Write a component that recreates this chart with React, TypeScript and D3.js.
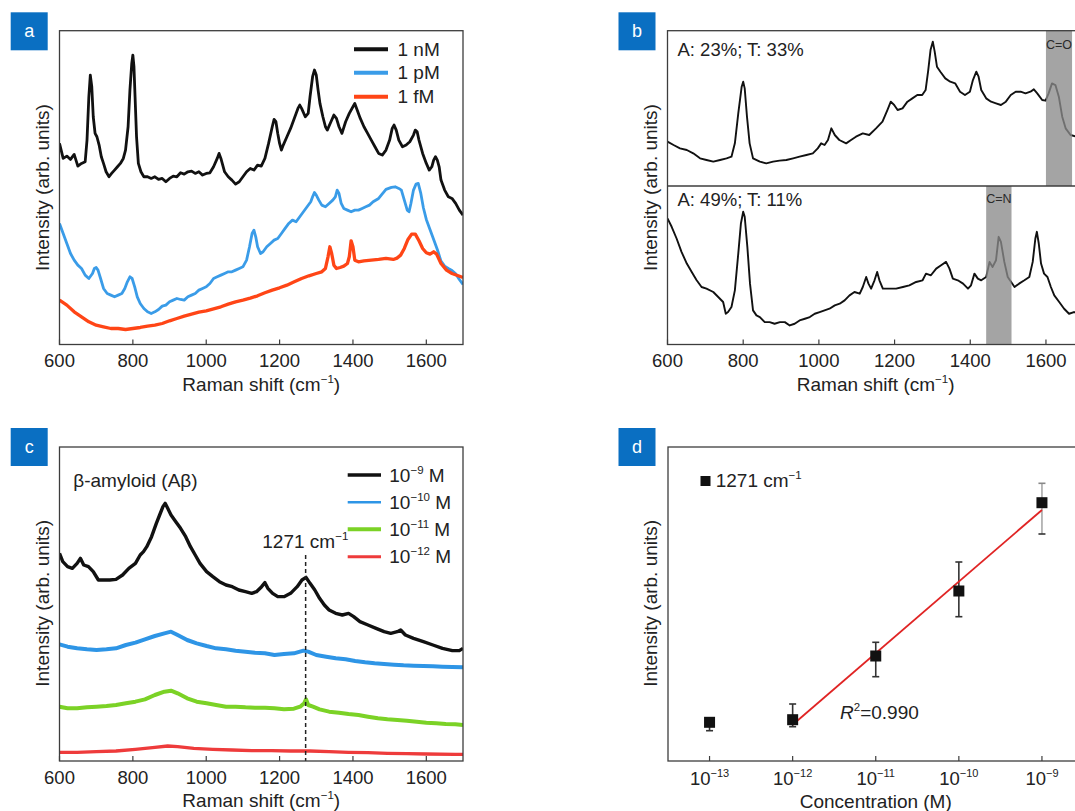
import React from 'react';
import * as d3 from 'd3';

// ---------------- DATA ----------------
const ramanTicks = [600, 800, 1000, 1200, 1400, 1600];

// Panel a: [Raman shift (cm-1), intensity (arb.)]
const a1nM: [number, number][] = [[600,603],[610,558],[620,565],[630,555],[640,570],[650,535],[660,543],[670,548],[675,613],[680,743],[684,808],[688,773],[692,683],[697,633],[702,623],[708,598],[714,563],[720,543],[727,518],[735,503],[742,513],[750,523],[758,533],[766,543],[774,558],[780,583],[787,653],[792,763],[797,843],[800,868],[803,833],[806,743],[810,623],[815,543],[822,518],[830,503],[840,503],[850,498],[860,503],[870,495],[880,498],[890,488],[900,498],[910,505],[920,503],[930,515],[940,511],[950,518],[960,520],[970,513],[980,518],[990,508],[1000,513],[1010,515],[1020,533],[1030,558],[1035,573],[1040,558],[1045,538],[1050,518],[1060,503],[1070,493],[1080,481],[1090,488],[1100,503],[1110,518],[1120,528],[1130,523],[1140,538],[1150,535],[1160,558],[1170,603],[1180,653],[1185,675],[1190,668],[1195,633],[1200,603],[1205,583],[1210,598],[1220,623],[1230,648],[1240,678],[1250,708],[1255,718],[1260,708],[1270,683],[1278,693],[1283,743],[1290,803],[1295,823],[1300,808],[1305,763],[1310,723],[1318,683],[1325,653],[1330,643],[1340,668],[1348,688],[1355,678],[1362,653],[1370,633],[1380,668],[1390,693],[1400,713],[1405,723],[1410,708],[1420,678],[1430,653],[1440,633],[1450,613],[1460,593],[1470,573],[1480,568],[1490,583],[1500,613],[1507,648],[1512,658],[1518,643],[1525,613],[1535,593],[1545,598],[1555,608],[1565,628],[1570,643],[1575,638],[1580,613],[1590,573],[1600,543],[1608,523],[1615,533],[1620,553],[1625,563],[1630,553],[1635,533],[1640,493],[1650,463],[1660,443],[1670,438],[1680,423],[1690,403],[1700,388]];
const a1pM: [number, number][] = [[600,363],[610,333],[620,303],[630,273],[640,253],[650,238],[660,228],[670,208],[680,198],[690,213],[695,228],[700,231],[705,223],[712,198],[720,168],[730,153],[740,148],[750,143],[760,148],[770,153],[778,168],[785,188],[792,203],[798,198],[805,173],[812,143],[820,123],[830,108],[840,98],[850,93],[860,98],[870,105],[880,115],[890,118],[900,128],[910,133],[920,138],[930,135],[940,133],[950,143],[960,148],[970,153],[980,163],[990,168],[1000,173],[1010,183],[1020,198],[1030,203],[1040,208],[1050,213],[1060,218],[1070,218],[1080,223],[1090,228],[1100,233],[1110,253],[1118,293],[1125,333],[1130,343],[1135,323],[1140,293],[1148,273],[1155,278],[1165,293],[1175,303],[1185,313],[1195,318],[1205,333],[1215,348],[1225,363],[1235,373],[1245,368],[1255,383],[1265,398],[1275,413],[1285,428],[1290,443],[1295,456],[1300,448],[1307,433],[1315,418],[1325,413],[1335,423],[1345,433],[1352,443],[1357,463],[1362,453],[1368,423],[1375,408],[1385,403],[1395,398],[1405,403],[1415,403],[1425,408],[1435,413],[1445,418],[1455,428],[1470,438],[1490,465],[1505,471],[1515,473],[1525,468],[1532,463],[1540,433],[1548,403],[1553,398],[1558,423],[1565,463],[1572,481],[1578,483],[1585,453],[1592,410],[1600,375],[1610,345],[1620,315],[1630,285],[1640,250],[1650,235],[1660,228],[1670,222],[1680,212],[1690,195],[1700,180]];
const a1fM: [number, number][] = [[600,133],[620,118],[640,98],[660,83],[680,68],[700,58],[720,53],[740,48],[760,48],[780,45],[800,48],[820,51],[840,55],[860,58],[880,63],[900,71],[920,78],[940,85],[960,91],[980,97],[1000,101],[1020,107],[1040,113],[1060,121],[1080,128],[1100,133],[1120,139],[1140,146],[1160,155],[1180,163],[1200,170],[1220,178],[1240,188],[1260,198],[1280,206],[1300,213],[1315,218],[1325,228],[1332,263],[1337,293],[1342,273],[1348,238],[1355,228],[1365,231],[1375,235],[1385,243],[1390,263],[1395,311],[1400,293],[1405,253],[1415,248],[1430,251],[1450,253],[1470,255],[1490,258],[1510,255],[1520,259],[1530,268],[1540,288],[1550,315],[1560,331],[1570,331],[1580,311],[1590,288],[1600,275],[1610,271],[1620,278],[1628,271],[1640,243],[1655,223],[1670,213],[1685,207],[1700,201]];
const aLegend = ['1 nM', '1 pM', '1 fM'];

// Panel b
const bUpper: [number, number][] = [[600,133],[616,123],[633,113],[651,108],[668,98],[686,83],[703,78],[721,73],[739,78],[756,83],[769,88],[778,128],[787,218],[796,298],[800,313],[804,293],[810,208],[817,128],[826,83],[844,73],[861,68],[879,73],[896,76],[914,78],[932,83],[949,88],[967,93],[984,98],[997,113],[1006,128],[1015,123],[1024,138],[1033,173],[1042,153],[1054,138],[1072,128],[1085,138],[1098,148],[1116,158],[1133,153],[1151,173],[1168,193],[1181,228],[1190,253],[1199,243],[1208,228],[1221,233],[1234,253],[1247,263],[1260,273],[1273,273],[1282,288],[1289,348],[1295,408],[1301,433],[1306,403],[1312,358],[1321,343],[1334,323],[1347,313],[1360,308],[1373,283],[1386,273],[1399,283],[1407,318],[1416,343],[1422,328],[1429,288],[1442,263],[1455,253],[1468,248],[1481,243],[1494,253],[1507,273],[1520,283],[1533,283],[1546,278],[1559,283],[1568,290],[1577,278],[1590,258],[1599,256],[1607,278],[1616,308],[1625,303],[1634,268],[1643,208],[1652,173],[1665,153],[1680,148]];
const bLower: [number, number][] = [[600,377],[611,352],[624,317],[637,277],[651,242],[664,217],[677,192],[690,172],[703,167],[721,157],[734,142],[747,127],[754,92],[760,97],[769,112],[778,162],[787,272],[794,362],[800,397],[804,382],[811,292],[818,182],[826,102],[835,87],[844,82],[857,67],[870,67],[883,62],[897,67],[910,67],[923,57],[936,62],[949,72],[963,77],[976,82],[989,92],[1002,97],[1015,102],[1028,107],[1042,117],[1055,122],[1068,132],[1081,147],[1094,157],[1108,152],[1116,172],[1125,202],[1131,182],[1138,167],[1147,192],[1154,217],[1160,192],[1169,167],[1187,167],[1204,167],[1222,172],[1239,177],[1257,187],[1274,192],[1283,212],[1296,207],[1310,227],[1323,237],[1336,247],[1345,227],[1354,197],[1367,192],[1381,182],[1394,167],[1402,177],[1411,212],[1420,197],[1429,192],[1442,202],[1451,247],[1459,232],[1468,252],[1475,322],[1481,307],[1490,247],[1499,202],[1508,187],[1517,172],[1529,182],[1543,192],[1556,202],[1565,247],[1572,317],[1576,337],[1581,302],[1587,242],[1595,212],[1604,202],[1613,172],[1622,147],[1635,127],[1648,107],[1661,92],[1674,97],[1690,92]];
const bBands: [number, number][] = [[1600, 1669], [1442, 1509]];
const bBandLabels = ['C=O', 'C=N'];
const bAnnotations = ['A: 23%; T: 33%', 'A: 49%; T: 11%'];

// Panel c
const c1e9: [number, number][] = [[600,623],[609,598],[622,583],[635,578],[648,593],[657,608],[666,588],[679,583],[692,568],[706,543],[719,543],[737,543],[754,545],[772,558],[789,578],[807,593],[820,618],[829,628],[838,643],[851,673],[864,713],[873,738],[882,763],[888,773],[895,758],[904,738],[917,718],[930,698],[944,673],[957,643],[970,618],[983,593],[1001,568],[1018,553],[1036,538],[1054,528],[1071,523],[1089,513],[1107,508],[1124,503],[1137,508],[1151,523],[1160,535],[1168,518],[1181,503],[1195,493],[1212,493],[1230,503],[1248,523],[1261,543],[1272,551],[1283,533],[1296,513],[1309,488],[1322,468],[1335,453],[1353,443],[1371,438],[1388,443],[1402,433],[1419,418],[1441,408],[1463,398],[1485,388],[1503,383],[1521,388],[1530,393],[1543,378],[1565,368],[1592,358],[1618,348],[1644,338],[1671,331],[1690,331],[1700,338]];
const c1e10: [number, number][] = [[600,350],[622,343],[648,338],[675,335],[701,333],[728,335],[754,338],[781,348],[807,355],[833,365],[860,375],[886,383],[904,388],[922,378],[948,363],[974,353],[1001,345],[1027,338],[1054,335],[1080,331],[1107,328],[1133,325],[1160,323],[1186,318],[1212,321],[1239,323],[1265,331],[1278,328],[1300,318],[1327,313],[1353,308],[1380,305],[1406,300],[1433,296],[1459,293],[1485,291],[1512,289],[1538,287],[1565,286],[1592,285],[1618,284],[1644,283],[1671,282],[1700,281]];
const c1e11: [number, number][] = [[600,163],[622,158],[648,158],[675,161],[701,163],[728,165],[754,168],[781,173],[807,178],[833,185],[860,198],[886,208],[904,211],[922,203],[948,188],[974,178],[1001,173],[1027,168],[1054,163],[1080,163],[1107,161],[1133,160],[1160,160],[1186,158],[1212,155],[1239,157],[1256,163],[1267,173],[1272,185],[1278,168],[1291,163],[1309,155],[1335,148],[1362,145],[1388,141],[1415,138],[1441,133],[1468,128],[1494,125],[1521,123],[1547,121],[1574,118],[1600,115],[1627,113],[1653,111],[1679,110],[1700,108]];
const c1e12: [number, number][] = [[600,26],[648,26],[701,28],[754,30],[807,35],[860,41],[895,45],[922,43],[966,38],[1018,35],[1071,33],[1124,31],[1177,31],[1230,30],[1283,30],[1335,28],[1388,26],[1441,25],[1494,23],[1547,22],[1600,21],[1679,20],[1700,20]];
const cLegendExp = ['\u22129', '\u221210', '\u221211', '\u221212'];
const cMarkedShift = 1271;

// Panel d
const dConc = [1e-13, 1e-12, 1e-11, 1e-10, 1e-9];
const dIntensity = [38.7, 41.3, 105, 170, 258.3];
const dErrUp = [3, 15.7, 13.7, 29, 19.4];
const dErrDown = [8.4, 7, 20.7, 25.7, 31.3];
const dTickExp = [-13, -12, -11, -10, -9];
const dR2 = '0.990';

// ---------------- STYLE / LAYOUT ----------------
const FONT = '"Liberation Sans", Arial, Helvetica, sans-serif';
const AXIS = '#3d3d3d';
const TXT = '#222';
const BOX = '#0a6fc2';
const TICK_FS = 18.5;
const TITLE_FS = 19;

const PA = { l: 59.5, r: 463, t: 30.7, b: 344.5 };
const PB = { l: 667.5, r: 1083.8, t: 30.7, m: 186, b: 344.5 };
const PC = { l: 59.5, r: 463, t: 447, b: 761 };
const PD = { l: 668, r: 1083.5, t: 447, b: 761 };

const MINUS = '\u2212';

function LabelBox({ x, y, letter }: { x: number; y: number; letter: string }) {
  return (
    <g>
      <rect x={x} y={y} width={37} height={38} fill={BOX} />
      <text x={x + 18.5} y={y + 25} textAnchor="middle" fill="#fff" fontSize={18}>{letter}</text>
    </g>
  );
}

function RamanTitle({ cx, y }: { cx: number; y: number }) {
  return (
    <text x={cx} y={y} textAnchor="middle" fontSize={TITLE_FS} fill={TXT}>
      Raman shift (cm<tspan dy={-8} fontSize={11.5}>{MINUS}1</tspan><tspan dy={8}>)</tspan>
    </text>
  );
}

function YTitle({ x, cy }: { x: number; cy: number }) {
  return (
    <text transform={`translate(${x},${cy}) rotate(-90)`} textAnchor="middle" dy="0.35em" fontSize={TITLE_FS} fill={TXT}>
      Intensity (arb. units)
    </text>
  );
}

function RamanTicks({ x, b }: { x: d3.ScaleLinear<number, number>; b: number }) {
  return (
    <g>
      {ramanTicks.map((v) => (
        <g key={v}>
          <line x1={x(v)} x2={x(v)} y1={b} y2={b - 5} stroke={AXIS} strokeWidth={1.2} />
          <text x={x(v)} y={b + 22.5} textAnchor="middle" fontSize={TICK_FS} fill={TXT}>{v}</text>
        </g>
      ))}
    </g>
  );
}

function makeLine(x: (v: number) => number, y: (v: number) => number) {
  return d3.line<[number, number]>().x((d) => x(d[0])).y((d) => y(d[1])).curve(d3.curveLinear);
}

function PanelA() {
  const x = d3.scaleLinear().domain([600, 1700]).range([PA.l, PA.r]);
  const y = d3.scaleLinear().domain([0, 941]).range([PA.b, PA.t]);
  const line = makeLine(x, y);
  const series = [
    { d: a1nM, c: '#111111', w: 2.8 },
    { d: a1pM, c: '#3a9ce8', w: 2.8 },
    { d: a1fM, c: '#ff4516', w: 3.3 },
  ];
  const legY = [49.3, 72.7, 96.7];
  return (
    <g>
      <defs>
        <clipPath id="clipA"><rect x={PA.l} y={PA.t} width={PA.r - PA.l} height={PA.b - PA.t} /></clipPath>
      </defs>
      <g clipPath="url(#clipA)">
        {series.map((s, i) => (
          <path key={i} d={line(s.d) || ''} fill="none" stroke={s.c} strokeWidth={s.w} strokeLinejoin="round" />
        ))}
      </g>
      <rect x={PA.l} y={PA.t} width={PA.r - PA.l} height={PA.b - PA.t} fill="none" stroke={AXIS} strokeWidth={1.3} />
      <RamanTicks x={x} b={PA.b} />
      {aLegend.map((lab, i) => (
        <g key={lab}>
          <line x1={354} x2={388} y1={legY[i]} y2={legY[i]} stroke={series[i].c} strokeWidth={4} />
          <text x={397.5} y={legY[i] + 6.6} fontSize={TITLE_FS} fill={TXT}>{lab}</text>
        </g>
      ))}
      <RamanTitle cx={(PA.l + PA.r) / 2} y={390.5} />
      <YTitle x={42} cy={187.5} />
      <LabelBox x={10.7} y={12.3} letter="a" />
    </g>
  );
}

function PanelB() {
  const x = d3.scaleLinear().domain([600, 1700]).range([PB.l, PB.r]);
  const yU = d3.scaleLinear().domain([0, 466]).range([PB.m, PB.t]);
  const yL = d3.scaleLinear().domain([0, 474]).range([PB.b, PB.m]);
  const lineU = makeLine(x, yU);
  const lineL = makeLine(x, yL);
  const bandTop = [PB.t, PB.m];
  const bandBot = [PB.m, PB.b];
  const labelY = [49.3, 202.7];
  const annY = [56, 206];
  return (
    <g>
      <defs>
        <clipPath id="clipBU"><rect x={PB.l} y={PB.t} width={PB.r - PB.l} height={PB.m - PB.t} /></clipPath>
        <clipPath id="clipBL"><rect x={PB.l} y={PB.m} width={PB.r - PB.l} height={PB.b - PB.m} /></clipPath>
      </defs>
      <path d={lineU(bUpper) || ''} clipPath="url(#clipBU)" fill="none" stroke="#111" strokeWidth={1.9} strokeLinejoin="round" />
      <path d={lineL(bLower) || ''} clipPath="url(#clipBL)" fill="none" stroke="#111" strokeWidth={1.9} strokeLinejoin="round" />
      {bBands.map((bd, i) => (
        <g key={i}>
          <rect x={x(bd[0])} y={bandTop[i]} width={x(bd[1]) - x(bd[0])} height={bandBot[i] - bandTop[i]} fill="#8a8a8a" fillOpacity={0.78} />
          <text x={(x(bd[0]) + x(bd[1])) / 2} y={labelY[i]} textAnchor="middle" fontSize={12.5} fill="#2a2a2a">{bBandLabels[i]}</text>
        </g>
      ))}
      <rect x={PB.l} y={PB.t} width={PB.r - PB.l} height={PB.b - PB.t} fill="none" stroke={AXIS} strokeWidth={1.3} />
      <line x1={PB.l} x2={PB.r} y1={PB.m} y2={PB.m} stroke={AXIS} strokeWidth={1.3} />
      <RamanTicks x={x} b={PB.b} />
      {bAnnotations.map((t, i) => (
        <text key={t} x={677.5} y={annY[i]} fontSize={TICK_FS} fill={TXT}>{t}</text>
      ))}
      <RamanTitle cx={(PB.l + PB.r) / 2} y={390.5} />
      <YTitle x={650} cy={187.5} />
      <LabelBox x={618.5} y={12.3} letter="b" />
    </g>
  );
}

function PanelC() {
  const x = d3.scaleLinear().domain([600, 1700]).range([PC.l, PC.r]);
  const y = d3.scaleLinear().domain([0, 942]).range([PC.b, PC.t]);
  const line = makeLine(x, y);
  const series = [
    { d: c1e9, c: '#111111', w: 3.4, lw: 3.5 },
    { d: c1e10, c: '#2e95e6', w: 4.0, lw: 2.6 },
    { d: c1e11, c: '#7bd226', w: 4.0, lw: 4 },
    { d: c1e12, c: '#ee3b3b', w: 3.4, lw: 3 },
  ];
  const legY = [475, 502.3, 529.3, 556.7];
  const xm = x(cMarkedShift);
  return (
    <g>
      <defs>
        <clipPath id="clipC"><rect x={PC.l} y={PC.t} width={PC.r - PC.l} height={PC.b - PC.t} /></clipPath>
      </defs>
      <g clipPath="url(#clipC)">
        {series.slice().reverse().map((s, i) => (
          <path key={i} d={line(s.d) || ''} fill="none" stroke={s.c} strokeWidth={s.w} strokeLinejoin="round" />
        ))}
      </g>
      <line x1={xm} x2={xm} y1={555} y2={PC.b} stroke="#222" strokeWidth={1.5} strokeDasharray="4,3" />
      <rect x={PC.l} y={PC.t} width={PC.r - PC.l} height={PC.b - PC.t} fill="none" stroke={AXIS} strokeWidth={1.3} />
      <RamanTicks x={x} b={PC.b} />
      <text x={73.3} y={486.5} fontSize={TITLE_FS} fill={TXT}>β-amyloid (Aβ)</text>
      <text x={262.3} y={548.3} fontSize={TITLE_FS} fill={TXT}>
        {cMarkedShift} cm<tspan dy={-8} fontSize={11.5}>{MINUS}1</tspan>
      </text>
      {cLegendExp.map((e, i) => (
        <g key={e}>
          <line x1={347.7} x2={381} y1={legY[i]} y2={legY[i]} stroke={series[i].c} strokeWidth={series[i].lw} />
          <text x={389.3} y={legY[i] + 6.6} fontSize={TITLE_FS} fill={TXT}>
            10<tspan dy={-8} fontSize={11.5}>{e}</tspan><tspan dy={8}> M</tspan>
          </text>
        </g>
      ))}
      <RamanTitle cx={(PC.l + PC.r) / 2} y={806.5} />
      <YTitle x={42} cy={603.3} />
      <LabelBox x={10.7} y={428} letter="c" />
    </g>
  );
}

function PanelD() {
  const x = d3.scaleLog().domain([Math.pow(10, -13.5), Math.pow(10, -8.5)]).range([PD.l, PD.r]);
  const y = d3.scaleLinear().domain([0, 314]).range([PD.b, PD.t]);
  // linear fit of intensity vs log10(concentration) for 1e-12 .. 1e-9
  const fx = dConc.slice(1).map((c) => Math.log10(c));
  const fy = dIntensity.slice(1);
  const mx = d3.mean(fx) as number;
  const my = d3.mean(fy) as number;
  let sxy = 0, sxx = 0;
  fx.forEach((v, i) => { sxy += (v - mx) * (fy[i] - my); sxx += (v - mx) * (v - mx); });
  const slope = sxy / sxx;
  const fit = (lx: number) => my + slope * (lx - mx);
  const x0 = fx[0], x1 = fx[fx.length - 1];
  const sq = 11;
  return (
    <g>
      <rect x={PD.l} y={PD.t} width={PD.r - PD.l} height={PD.b - PD.t} fill="none" stroke={AXIS} strokeWidth={1.3} />
      {dTickExp.map((e) => {
        const tx = x(Math.pow(10, e));
        return (
          <g key={e}>
            <line x1={tx} x2={tx} y1={PD.b} y2={PD.b - 5} stroke={AXIS} strokeWidth={1.2} />
            <text x={tx} y={PD.b + 23.5} textAnchor="middle" fontSize={TICK_FS} fill={TXT}>
              10<tspan dy={-8} fontSize={11}>{MINUS}{Math.abs(e)}</tspan>
            </text>
          </g>
        );
      })}
      {dConc.map((c, i) => {
        const cx = x(c);
        const isLast = i === dConc.length - 1;
        const top = y(dIntensity[i] + dErrUp[i]);
        const bot = y(dIntensity[i] - dErrDown[i]);
        return (
          <g key={i}>
            <line x1={cx} x2={cx} y1={top} y2={bot} stroke={isLast ? '#a8a8a8' : '#333'} strokeWidth={1.6} />
            <line x1={cx - 3.5} x2={cx + 3.5} y1={top} y2={top} stroke={isLast ? '#888' : '#333'} strokeWidth={1.6} />
            <line x1={cx - 3.5} x2={cx + 3.5} y1={bot} y2={bot} stroke="#333" strokeWidth={1.6} />
          </g>
        );
      })}
      <line x1={x(Math.pow(10, x0))} y1={y(fit(x0))} x2={x(Math.pow(10, x1))} y2={y(fit(x1))} stroke="#e02424" strokeWidth={1.8} />
      {dConc.map((c, i) => (
        <rect key={i} x={x(c) - sq / 2} y={y(dIntensity[i]) - sq / 2} width={sq} height={sq} fill="#111" />
      ))}
      <rect x={700.5} y={476} width={10} height={10} fill="#111" />
      <text x={715.7} y={487} fontSize={TITLE_FS} fill={TXT}>
        1271 cm<tspan dy={-8} fontSize={11.5}>{MINUS}1</tspan>
      </text>
      <text x={840} y={719} fontSize={TITLE_FS} fill={TXT}>
        <tspan fontStyle="italic">R</tspan><tspan dy={-8} fontSize={11.5}>2</tspan><tspan dy={8}>={dR2}</tspan>
      </text>
      <text x={(PD.l + PD.r) / 2} y={808} textAnchor="middle" fontSize={TITLE_FS} fill={TXT}>Concentration (M)</text>
      <YTitle x={650} cy={603.3} />
      <LabelBox x={618.5} y={428} letter="d" />
    </g>
  );
}

export default function App() {
  return (
    <svg width={1075} height={811} viewBox="0 0 1075 811"
      style={{ position: 'absolute', left: 0, top: 0, background: '#fff', fontFamily: FONT }}>
      <rect x={0} y={0} width={1075} height={811} fill="#fff" />
      <PanelA />
      <PanelB />
      <PanelC />
      <PanelD />
    </svg>
  );
}
